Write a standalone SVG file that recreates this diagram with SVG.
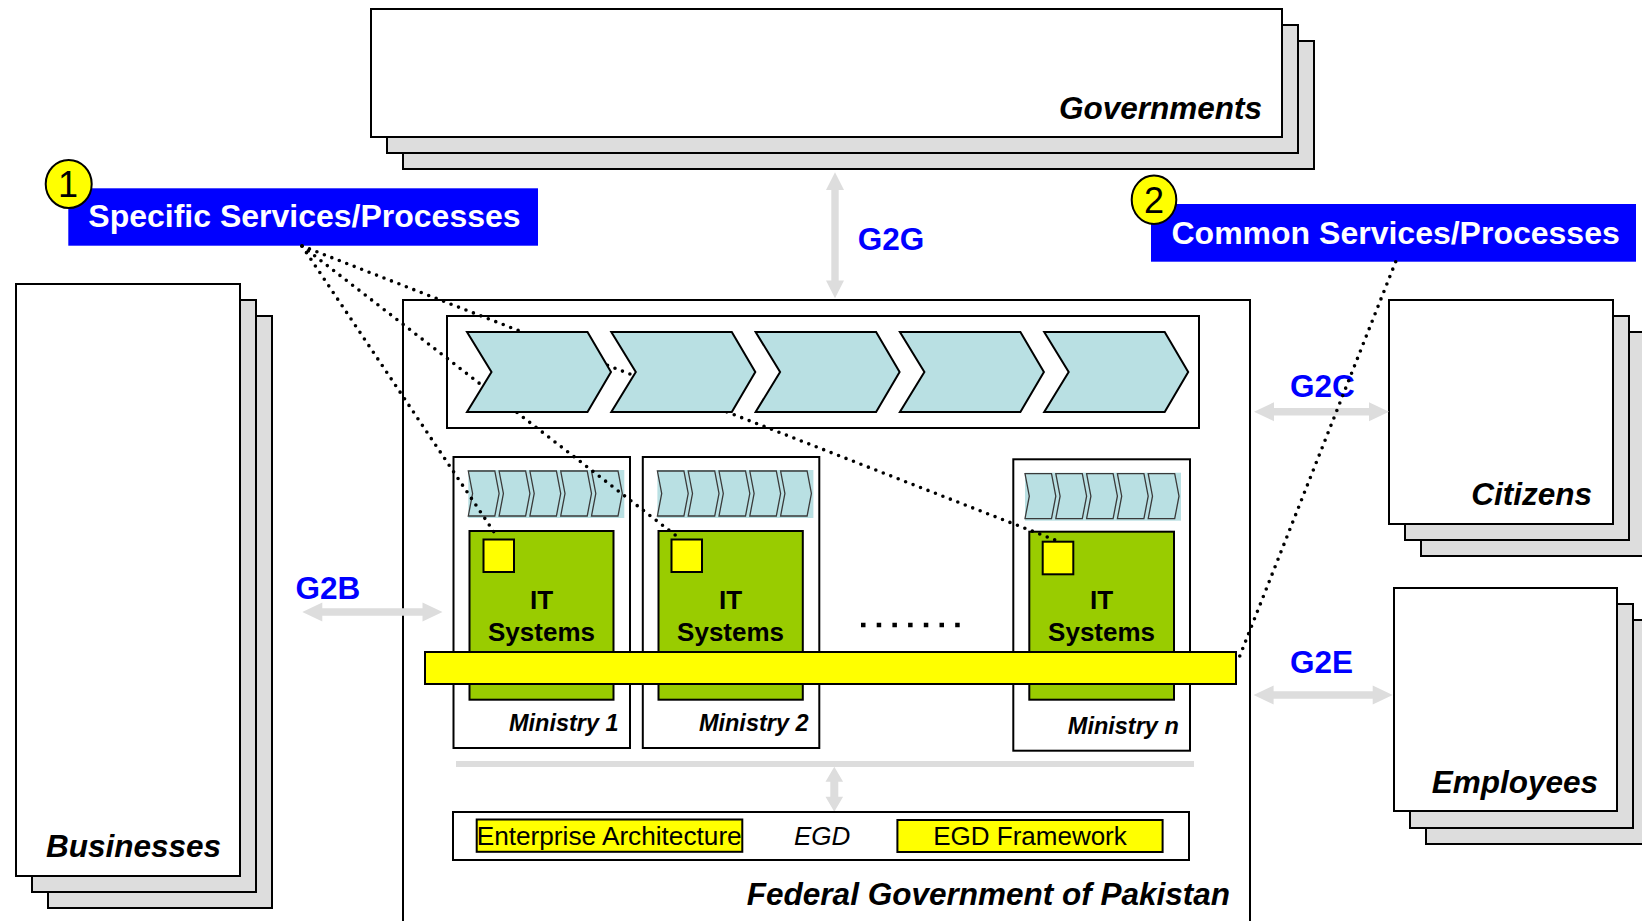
<svg xmlns="http://www.w3.org/2000/svg" xmlns:xlink="http://www.w3.org/1999/xlink" width="1642" height="921" viewBox="0 0 1642 921">
<style>
.box{fill:#fff;stroke:#000;stroke-width:2}
.shadow{fill:#dddddd;stroke:#000;stroke-width:2}
.lbl{font-family:"Liberation Sans",Arial,sans-serif;font-weight:bold;font-style:italic;font-size:31.5px;fill:#000}
.hdr{font-family:"Liberation Sans",Arial,sans-serif;font-weight:bold;font-size:32px;fill:#fff}
.hdrbox{fill:#0000ff}
.badge{fill:#ffff00;stroke:#000;stroke-width:2}
.num{font-family:"Liberation Sans",Arial,sans-serif;font-size:36px;fill:#000;text-anchor:middle}
.g2{font-family:"Liberation Sans",Arial,sans-serif;font-weight:bold;font-size:31.5px;fill:#0000ff}
.arrow{fill:#dddddd;stroke:none}
.chev{fill:#b9e0e3;stroke:#000;stroke-width:2}
.mchev{fill:#b9e0e3;stroke:#3a3a3a;stroke-width:1.3}
.green{fill:#99cc00;stroke:#000;stroke-width:2}
.yel{fill:#ffff00;stroke:#000;stroke-width:2}
.it{font-family:"Liberation Sans",Arial,sans-serif;font-weight:bold;font-size:26px;fill:#000;text-anchor:middle}
.min{font-family:"Liberation Sans",Arial,sans-serif;font-weight:bold;font-style:italic;font-size:23.5px;fill:#000;text-anchor:end}
.reg{font-family:"Liberation Sans",Arial,sans-serif;font-size:26px;fill:#000}
.dot{fill:none;stroke:#000;stroke-width:3.6;stroke-linecap:round;stroke-dasharray:0 8}
</style>
<defs>
<g id="mini-strip">
<rect x="0" y="0" width="156" height="48" fill="#b9e0e3"/>
<path class="mchev" d="M0,1 h26.5 l4.3,22.5 l-4.3,22.5 h-26.5 l4.3,-22.5 z"/>
<path class="mchev" d="M30.8,1 h26.5 l4.3,22.5 l-4.3,22.5 h-26.5 l4.3,-22.5 z"/>
<path class="mchev" d="M61.6,1 h26.5 l4.3,22.5 l-4.3,22.5 h-26.5 l4.3,-22.5 z"/>
<path class="mchev" d="M92.4,1 h26.5 l4.3,22.5 l-4.3,22.5 h-26.5 l4.3,-22.5 z"/>
<path class="mchev" d="M123.2,1 h26.5 l4.3,22.5 l-4.3,22.5 h-26.5 l4.3,-22.5 z"/>
</g>
</defs>
<rect x="0" y="0" width="1642" height="921" fill="#fff"/>

<g id="governments">
<rect class="shadow" x="403" y="41" width="911" height="128"/>
<rect class="shadow" x="387" y="25" width="911" height="128"/>
<rect class="box" x="371" y="9" width="911" height="128"/>
<text class="lbl" x="1262" y="119" text-anchor="end">Governments</text>
</g>

<g id="businesses">
<rect class="shadow" x="48" y="316" width="224" height="592"/>
<rect class="shadow" x="32" y="300" width="224" height="592"/>
<rect class="box" x="16" y="284" width="224" height="592"/>
<text class="lbl" x="221" y="857" text-anchor="end">Businesses</text>
</g>

<g id="citizens">
<rect class="shadow" x="1421" y="332" width="224" height="224"/>
<rect class="shadow" x="1405" y="316" width="224" height="224"/>
<rect class="box" x="1389" y="300" width="224" height="224"/>
<text class="lbl" x="1592" y="505" text-anchor="end">Citizens</text>
</g>

<g id="employees">
<rect class="shadow" x="1426" y="620" width="224" height="224"/>
<rect class="shadow" x="1410" y="604" width="223" height="224"/>
<rect class="box" x="1394" y="588" width="223" height="223"/>
<text class="lbl" x="1598" y="793" text-anchor="end">Employees</text>
</g>

<g id="federal-government">
<rect class="box" x="403" y="300" width="847" height="700"/>
<text class="lbl" x="1230" y="905" text-anchor="end" font-size="32">Federal Government of Pakistan</text>
</g>

<g id="process-bar">
<rect class="box" x="447" y="316" width="752" height="112"/>
</g>

<g id="ministry-1">
<rect class="box" x="453.5" y="457" width="176.5" height="291"/>
<use xlink:href="#mini-strip" x="468.3" y="470"/>
<rect class="green" x="469.5" y="531" width="144" height="168.7"/>
<rect class="yel" x="483.5" y="539.5" width="30.5" height="32.5"/>
<text class="it" x="541.5" y="609.3">IT</text>
<text class="it" x="541.5" y="641">Systems</text>
<text class="min" x="618.7" y="730.7">Ministry 1</text>
</g>

<g id="ministry-2">
<rect class="box" x="642.8" y="457" width="176.5" height="291"/>
<use xlink:href="#mini-strip" x="657.4" y="470"/>
<rect class="green" x="658.5" y="531" width="144.3" height="168.7"/>
<rect class="yel" x="671.5" y="539.5" width="30.5" height="32.5"/>
<text class="it" x="730.6" y="609.3">IT</text>
<text class="it" x="730.6" y="641">Systems</text>
<text class="min" x="808.6" y="730.7">Ministry 2</text>
</g>

<g id="ministry-n">
<rect class="box" x="1013.3" y="459.3" width="176.7" height="291.4"/>
<use xlink:href="#mini-strip" x="1025" y="472.7"/>
<rect class="green" x="1029.3" y="531.7" width="144.7" height="168"/>
<rect class="yel" x="1042.7" y="541.7" width="30.6" height="32.6"/>
<text class="it" x="1101.6" y="609.3">IT</text>
<text class="it" x="1101.6" y="641">Systems</text>
<text class="min" x="1178.8" y="734">Ministry n</text>
</g>

<g id="integration-bar">
<rect class="yel" x="425" y="652" width="811" height="32"/>
</g>

<g id="ellipsis">
<line x1="861" y1="625" x2="961" y2="625" stroke="#000" stroke-width="4.5" stroke-dasharray="4.5 11.2"/>
</g>

<g id="egd">
<line x1="456" y1="764" x2="1194" y2="764" stroke="#dddddd" stroke-width="6"/>
<polygon class="arrow" points="834.3,766.7 843.1,781.7 838.3,781.7 838.3,796.7 843.1,796.7 834.3,811.7 825.5,796.7 830.3,796.7 830.3,781.7 825.5,781.7"/>
<rect class="box" x="453" y="812" width="736" height="48"/>
<rect class="yel" x="476.7" y="819.5" width="265.6" height="32.3"/>
<text class="reg" x="476.7" y="845" textLength="265" lengthAdjust="spacingAndGlyphs">Enterprise Architecture</text>
<text class="reg" x="794" y="845" font-style="italic">EGD</text>
<rect class="yel" x="897.4" y="820" width="265.2" height="32"/>
<text class="reg" x="1030" y="845" text-anchor="middle">EGD Framework</text>
</g>

<g id="relations">
<polygon class="arrow" points="835,172.3 844,190 838.7,190 838.7,280.6 844,280.6 835,298.3 826,280.6 831.3,280.6 831.3,190 826,190"/>
<text class="g2" x="857.7" y="250">G2G</text>
<polygon class="arrow" points="302.3,612 322.3,602.5 322.3,608.3 422.5,608.3 422.5,602.5 442.5,612 422.5,621.5 422.5,615.7 322.3,615.7 322.3,621.5"/>
<text class="g2" x="295.5" y="599.3">G2B</text>
<polygon class="arrow" points="1254,411.7 1274,402.2 1274,408 1369,408 1369,402.2 1389,411.7 1369,421.2 1369,415.4 1274,415.4 1274,421.2"/>
<text class="g2" x="1290" y="397">G2C</text>
<polygon class="arrow" points="1253.6,695 1273.6,685.5 1273.6,691.3 1372.7,691.3 1372.7,685.5 1392.7,695 1372.7,704.5 1372.7,698.7 1273.6,698.7 1273.6,704.5"/>
<text class="g2" x="1290" y="673">G2E</text>
</g>

<g id="specific-services">
<rect class="hdrbox" x="68.3" y="188.3" width="469.7" height="57.4"/>
<text class="hdr" x="88.3" y="227.3">Specific Services/Processes</text>
<ellipse class="badge" cx="68.7" cy="184" rx="23" ry="24"/>
<text class="num" x="68" y="197">1</text>
</g>

<g id="common-services">
<rect class="hdrbox" x="1151" y="204" width="485" height="57.7"/>
<text class="hdr" x="1171.5" y="244.3">Common Services/Processes</text>
<ellipse class="badge" cx="1154" cy="199.8" rx="22.3" ry="24.2"/>
<text class="num" x="1154" y="213">2</text>
</g>

<g id="connectors">
<line class="dot" x1="302" y1="246" x2="1055" y2="540"/>
<line class="dot" x1="302" y1="246" x2="679" y2="538"/>
<line class="dot" x1="302" y1="246" x2="498" y2="538"/>
<line class="dot" x1="1395.7" y1="261.7" x2="1237" y2="663"/>
</g>

<g id="process-steps">
<polygon class="chev" points="467,332 587.5,332 611,372 587.5,412 467,412 491.5,372"/>
<polygon class="chev" points="611.3,332 731.8,332 755.3,372 731.8,412 611.3,412 635.8,372"/>
<polygon class="chev" points="755.6,332 876.1,332 899.6,372 876.1,412 755.6,412 780.1,372"/>
<polygon class="chev" points="899.9,332 1020.4,332 1043.9,372 1020.4,412 899.9,412 924.4,372"/>
<polygon class="chev" points="1044.2,332 1164.7,332 1188.2,372 1164.7,412 1044.2,412 1068.7,372"/>
</g>
</svg>
